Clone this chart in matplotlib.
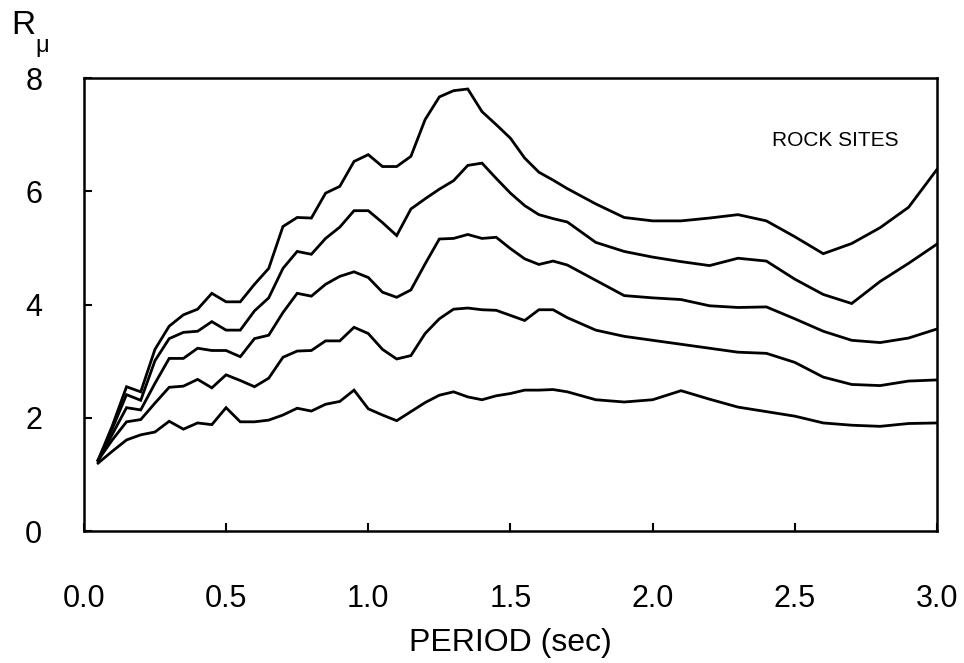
import numpy as np
import matplotlib
matplotlib.use('Agg')
import matplotlib.pyplot as plt

plt.rcParams['font.family'] = ['Liberation Sans', 'DejaVu Sans']

# periods (sec)
period = [0.05, 0.10, 0.15, 0.20, 0.25, 0.30, 0.35, 0.40, 0.45, 0.50,
          0.55, 0.60, 0.65, 0.70, 0.75, 0.80, 0.85, 0.90, 0.95, 1.00,
          1.05, 1.10, 1.15, 1.20, 1.25, 1.30, 1.35, 1.40, 1.45, 1.50,
          1.55, 1.60, 1.65, 1.70, 1.80, 1.90, 2.00, 2.10, 2.20, 2.30,
          2.40, 2.50, 2.60, 2.70, 2.80, 2.90, 3.00]

# strength reduction factors, bottom curve to top curve
r_1 = [1.20, 1.41, 1.61, 1.70, 1.75, 1.94, 1.80, 1.91, 1.88, 2.18,
       1.93, 1.93, 1.96, 2.05, 2.17, 2.12, 2.24, 2.29, 2.49, 2.16,
       2.05, 1.95, 2.11, 2.27, 2.40, 2.46, 2.37, 2.32, 2.39, 2.43,
       2.49, 2.49, 2.50, 2.46, 2.32, 2.28, 2.32, 2.48, 2.33, 2.19,
       2.11, 2.03, 1.91, 1.87, 1.85, 1.90, 1.91]
r_2 = [1.25, 1.61, 1.93, 1.97, 2.26, 2.54, 2.56, 2.68, 2.53, 2.76,
       2.66, 2.55, 2.70, 3.07, 3.18, 3.19, 3.36, 3.36, 3.60, 3.49,
       3.21, 3.04, 3.10, 3.49, 3.75, 3.92, 3.94, 3.91, 3.90, 3.81,
       3.72, 3.91, 3.91, 3.77, 3.55, 3.44, 3.37, 3.30, 3.23, 3.16,
       3.14, 2.98, 2.72, 2.59, 2.57, 2.65, 2.67]
r_3 = [1.25, 1.71, 2.18, 2.14, 2.61, 3.05, 3.05, 3.23, 3.19, 3.19,
       3.08, 3.40, 3.46, 3.86, 4.20, 4.15, 4.36, 4.50, 4.58, 4.48,
       4.22, 4.13, 4.26, 4.72, 5.16, 5.17, 5.24, 5.17, 5.19, 4.99,
       4.81, 4.71, 4.77, 4.70, 4.43, 4.16, 4.12, 4.09, 3.98, 3.95,
       3.96, 3.75, 3.53, 3.37, 3.33, 3.41, 3.57]
r_4 = [1.25, 1.81, 2.41, 2.31, 3.01, 3.40, 3.51, 3.53, 3.70, 3.55,
       3.55, 3.89, 4.12, 4.64, 4.94, 4.89, 5.17, 5.37, 5.66, 5.66,
       5.45, 5.22, 5.69, 5.87, 6.04, 6.19, 6.46, 6.50, 6.23, 5.97,
       5.75, 5.59, 5.52, 5.46, 5.10, 4.94, 4.84, 4.76, 4.69, 4.82,
       4.77, 4.45, 4.18, 4.02, 4.41, 4.73, 5.07]
r_5 = [1.25, 1.86, 2.55, 2.46, 3.21, 3.62, 3.82, 3.92, 4.20, 4.05,
       4.05, 4.36, 4.64, 5.38, 5.54, 5.53, 5.97, 6.09, 6.53, 6.65,
       6.44, 6.44, 6.62, 7.27, 7.67, 7.78, 7.81, 7.41, 7.18, 6.94,
       6.59, 6.34, 6.20, 6.05, 5.78, 5.54, 5.48, 5.48, 5.53, 5.59,
       5.48, 5.20, 4.90, 5.08, 5.36, 5.72, 6.39]

xticks = [0.0, 0.5, 1.0, 1.5, 2.0, 2.5, 3.0]
yticks = [0, 2, 4, 6, 8]

fig = plt.figure(figsize=(9.64, 6.63), dpi=100)
ax = fig.add_axes([0.087, 0.199, 0.885, 0.683])

for r in (r_1, r_2, r_3, r_4, r_5):
    ax.plot(period, r, color='black', lw=2.0, solid_joinstyle='miter')

ax.set_xlim(0, 3.0)
ax.set_ylim(0, 8)
ax.set_xticks(xticks)
ax.set_xticklabels(['%.1f' % t for t in xticks])
ax.set_yticks(yticks)
ax.tick_params(direction='in', length=6, width=1.5, labelsize=22)
ax.tick_params(axis='x', pad=38)
ax.tick_params(axis='y', pad=30)
for s in ax.spines.values():
    s.set_linewidth(1.8)

ax.set_xlabel('PERIOD (sec)', fontsize=23, labelpad=10)
ax.text(2.42, 6.9, 'ROCK SITES', fontsize=15, va='center', ha='left')

# axis title R with subscript mu
fig.text(0.012, 0.962, 'R', fontsize=24, ha='left', va='center')
fig.text(0.037, 0.930, 'μ', fontsize=17, ha='left', va='center')

fig.savefig('out.png', dpi=100)
